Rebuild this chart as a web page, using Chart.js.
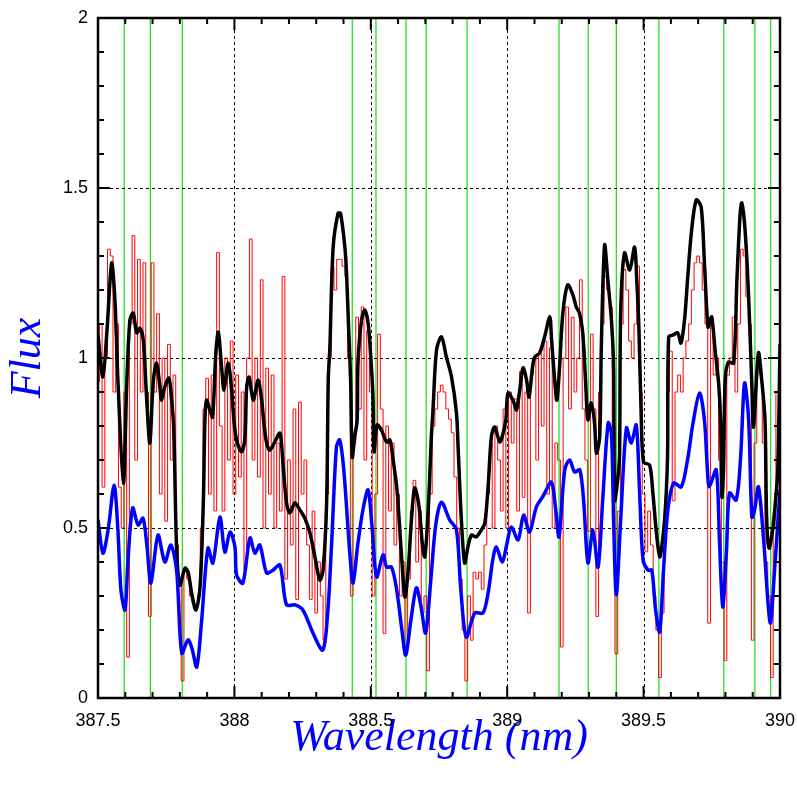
<!DOCTYPE html>
<html>
<head>
<meta charset="utf-8">
<script src="https://cdn.jsdelivr.net/npm/chart.js@4.4.1/dist/chart.umd.min.js"></script>
<style>
  html, body { margin: 0; padding: 0; background: #fff; }
  #wrap { width: 797px; height: 797px; }
</style>
</head>
<body>
<div id="wrap"><canvas id="spectrum" width="797" height="797"></canvas></div>
<script>
// axis ticks
const xTickLabels = ["387.5", "388", "388.5", "389", "389.5", "390"];
const yTickLabels = ["0", "0.5", "1", "1.5", "2"];
const xGridLines = [388, 388.5, 389, 389.5];
const yGridLines = [0.5, 1, 1.5];

// line positions (nm) marked in green
const lineWaves = [387.596, 387.692, 387.809, 388.432, 388.519, 388.629, 388.703,
  388.853, 389.190, 389.297, 389.400, 389.556, 389.794, 389.908, 389.966];

// observed spectrum, sampled every 0.01 nm from 387.5
const redStart = 387.5;
const redStep = 0.01;
const redFlux = [
  0.93, 1.10, 0.62, 1.00, 1.32, 1.30, 0.90, 1.10, 0.62, 0.50,
  0.90, 0.12, 1.10, 1.36, 0.70, 1.29, 0.90, 1.28, 0.90, 0.24,
  1.28, 0.90, 1.13, 0.60, 1.00, 0.52, 1.04, 0.70, 0.95, 0.45,
  0.35, 0.05, 0.38, 0.35, 0.30, 0.28, 0.26, 0.30, 0.50, 0.85,
  0.94, 0.60, 0.95, 0.55, 1.31, 0.80, 0.55, 1.00, 0.70, 1.05,
  0.60, 0.95, 0.65, 0.90, 0.38, 1.00, 1.35, 0.70, 1.00, 0.65,
  1.23, 0.50, 0.97, 0.60, 0.95, 0.50, 0.75, 0.55, 1.24, 0.35,
  0.70, 0.45, 0.85, 0.29, 0.87, 0.60, 0.70, 0.45, 0.29, 0.55,
  0.25, 0.40, 0.30, 0.17, 0.60, 1.00, 1.27, 1.20, 1.29, 1.29,
  1.27, 1.24, 1.00, 0.30, 0.75, 1.12, 0.85, 1.15, 0.70, 1.08,
  0.90, 0.30, 0.60, 1.07, 0.85, 0.19, 0.80, 0.55, 0.75, 0.45,
  0.60, 0.30, 0.40, 0.13, 0.35, 0.55, 0.64, 0.40, 0.55, 0.25,
  0.30, 0.08, 0.60, 0.80, 0.85, 0.90, 0.92, 0.90, 0.85, 0.82,
  0.78, 0.65, 0.50, 0.35, 0.20, 0.05, 0.30, 0.17, 0.37, 0.35,
  0.37, 0.32, 0.45, 0.60, 0.75, 0.50, 0.80, 0.70, 0.55, 0.85,
  0.50, 0.90, 0.75, 0.88, 0.55, 0.96, 0.59, 0.90, 0.25, 0.95,
  1.00, 0.70, 1.02, 0.80, 1.05, 0.60, 1.03, 0.50, 0.75, 0.70,
  0.15, 1.00, 1.15, 0.85, 1.12, 0.90, 1.00, 1.23, 0.85, 0.70,
  0.49, 1.07, 0.85, 0.24, 0.90, 1.10, 1.24, 1.20, 1.15, 0.80,
  0.13, 0.55, 1.10, 1.26, 1.20, 1.05, 1.00, 1.10, 1.27, 0.90,
  0.60, 0.43, 0.55, 0.45, 0.30, 0.20, 0.06, 0.25, 0.50, 0.90,
  1.02, 0.58, 0.90, 0.95, 0.90, 1.00, 1.05, 1.10, 1.20, 1.28,
  1.30, 1.28, 1.20, 1.10, 0.22, 1.10, 0.95, 1.00, 0.70, 0.40,
  0.11, 0.95, 1.00, 1.12, 0.90, 1.10, 1.32, 1.30, 1.18, 1.10,
  0.17, 0.75, 1.00, 0.95, 0.75, 0.40, 0.30, 0.06, 0.50, 0.90,
  1.00
];

// smoothed model, upper (black): [wavelength, flux]
const blackSpec = [
  [387.500,1.068],[387.518,0.944],[387.533,1.082],[387.550,1.279],[387.562,1.171],
  [387.573,0.935],[387.593,0.632],[387.605,0.915],[387.617,1.112],[387.629,1.132],
  [387.642,1.074],[387.654,1.088],[387.666,1.053],[387.678,0.885],[387.690,0.750],
  [387.703,0.935],[387.715,0.985],[387.727,0.915],[387.733,0.876],[387.745,0.915],
  [387.760,0.941],[387.770,0.876],[387.778,0.788],[387.788,0.444],[387.800,0.332],
  [387.819,0.382],[387.831,0.368],[387.843,0.309],[387.859,0.259],[387.874,0.326],
  [387.886,0.574],[387.892,0.818],[387.898,0.876],[387.910,0.847],[387.920,0.826],
  [387.932,1.015],[387.941,1.076],[387.953,0.974],[387.962,0.906],[387.977,0.985],
  [387.990,0.906],[387.998,0.818],[388.008,0.759],[388.026,0.724],[388.038,0.759],
  [388.045,0.915],[388.054,0.944],[388.069,0.876],[388.087,0.935],[388.100,0.876],
  [388.108,0.809],[388.118,0.750],[388.130,0.729],[388.148,0.753],[388.167,0.779],
  [388.179,0.679],[388.191,0.574],[388.203,0.544],[388.222,0.574],[388.240,0.553],
  [388.258,0.529],[388.277,0.485],[388.295,0.415],[388.313,0.347],[388.325,0.376],
  [388.338,0.574],[388.344,0.935],[388.350,1.032],[388.362,1.326],[388.380,1.426],
  [388.389,1.426],[388.405,1.326],[388.411,1.250],[388.419,1.082],[388.426,0.935],
  [388.432,0.709],[388.441,0.768],[388.450,0.818],[388.453,0.985],[388.466,1.112],
  [388.478,1.141],[388.490,1.103],[388.499,1.015],[388.508,0.885],[388.512,0.724],
  [388.523,0.803],[388.539,0.788],[388.558,0.753],[388.570,0.759],[388.582,0.700],
  [388.596,0.612],[388.612,0.426],[388.625,0.297],[388.637,0.376],[388.649,0.524],
  [388.661,0.618],[388.677,0.562],[388.690,0.444],[388.698,0.415],[388.710,0.544],
  [388.722,0.768],[388.728,0.847],[388.741,1.024],[388.759,1.062],[388.777,1.003],
  [388.796,0.944],[388.814,0.838],[388.820,0.738],[388.832,0.524],[388.844,0.397],
  [388.856,0.444],[388.869,0.479],[388.887,0.474],[388.905,0.494],[388.918,0.515],
  [388.930,0.621],[388.942,0.768],[388.954,0.797],[388.973,0.753],[388.985,0.779],
  [388.995,0.818],[389.003,0.897],[389.022,0.874],[389.034,0.847],[389.046,0.906],
  [389.058,0.971],[389.071,0.935],[389.080,0.885],[389.093,0.974],[389.101,1.003],
  [389.119,1.015],[389.137,1.062],[389.156,1.121],[389.162,1.062],[389.174,0.935],
  [389.182,0.876],[389.192,0.974],[389.204,1.132],[389.222,1.215],[389.241,1.185],
  [389.253,1.150],[389.265,1.132],[389.277,1.074],[389.287,0.935],[389.296,0.818],
  [389.308,0.868],[389.320,0.809],[389.327,0.720],[389.339,0.768],[389.345,1.032],
  [389.357,1.332],[389.369,1.229],[389.382,1.112],[389.390,0.974],[389.394,0.582],
  [389.406,0.650],[389.412,0.720],[389.416,1.132],[389.430,1.309],[389.449,1.259],
  [389.467,1.326],[389.475,1.229],[389.483,1.082],[389.491,0.838],[389.500,0.694],
  [389.522,0.685],[389.534,0.603],[389.546,0.494],[389.559,0.415],[389.571,0.474],
  [389.581,0.574],[389.588,0.720],[389.592,1.062],[389.609,1.068],[389.625,1.074],
  [389.637,1.044],[389.650,1.112],[389.661,1.229],[389.675,1.368],[389.693,1.465],
  [389.711,1.444],[389.723,1.279],[389.736,1.091],[389.744,1.112],[389.750,1.121],
  [389.762,1.024],[389.775,0.926],[389.782,0.818],[389.787,0.591],[389.793,0.670],
  [389.799,0.935],[389.811,0.988],[389.830,0.985],[389.842,1.229],[389.854,1.426],
  [389.860,1.456],[389.872,1.376],[389.885,1.179],[389.897,0.915],[389.903,0.797],
  [389.921,1.015],[389.933,0.935],[389.945,0.818],[389.951,0.532],[389.960,0.441],
  [389.973,0.494],[389.983,0.574],[389.992,0.671],[390.000,1.040]
];

// smoothed model, lower (blue): [wavelength, flux]
const blueSpec = [
  [387.500,0.524],[387.518,0.426],[387.537,0.494],[387.559,0.626],[387.573,0.494],
  [387.584,0.318],[387.599,0.259],[387.610,0.406],[387.627,0.559],[387.647,0.509],
  [387.665,0.529],[387.679,0.450],[387.694,0.338],[387.720,0.479],[387.745,0.400],
  [387.767,0.450],[387.788,0.376],[387.807,0.132],[387.830,0.171],[387.844,0.147],
  [387.862,0.091],[387.880,0.229],[387.903,0.441],[387.921,0.397],[387.947,0.532],
  [387.965,0.429],[387.984,0.488],[388.002,0.444],[388.008,0.362],[388.031,0.338],
  [388.057,0.471],[388.075,0.426],[388.093,0.450],[388.118,0.368],[388.141,0.376],
  [388.167,0.391],[388.191,0.274],[388.222,0.274],[388.251,0.259],[388.288,0.191],
  [388.324,0.141],[388.342,0.250],[388.357,0.465],[388.374,0.738],[388.386,0.759],
  [388.401,0.671],[388.423,0.426],[388.435,0.338],[388.452,0.450],[388.471,0.553],
  [388.490,0.612],[388.504,0.509],[388.521,0.356],[388.545,0.421],[388.558,0.385],
  [388.576,0.385],[388.595,0.318],[388.614,0.200],[388.628,0.126],[388.647,0.229],
  [388.667,0.324],[388.683,0.274],[388.701,0.191],[388.720,0.347],[388.738,0.509],
  [388.759,0.576],[388.789,0.524],[388.814,0.494],[388.830,0.318],[388.850,0.179],
  [388.881,0.250],[388.911,0.250],[388.930,0.309],[388.947,0.406],[388.960,0.444],
  [388.982,0.400],[388.998,0.450],[389.015,0.503],[389.040,0.465],[389.060,0.538],
  [389.082,0.488],[389.107,0.562],[389.134,0.597],[389.162,0.635],[389.178,0.553],
  [389.190,0.474],[389.211,0.671],[389.229,0.700],[389.247,0.665],[389.266,0.671],
  [389.280,0.582],[389.296,0.397],[389.314,0.494],[389.333,0.385],[389.350,0.582],
  [389.370,0.809],[389.382,0.779],[389.390,0.524],[389.400,0.303],[389.416,0.524],
  [389.437,0.794],[389.455,0.750],[389.473,0.803],[389.485,0.612],[389.498,0.406],
  [389.516,0.376],[389.530,0.376],[389.544,0.259],[389.559,0.194],[389.573,0.376],
  [389.589,0.553],[389.610,0.632],[389.638,0.621],[389.661,0.700],[389.680,0.803],
  [389.705,0.897],[389.723,0.818],[389.734,0.671],[389.741,0.621],[389.766,0.671],
  [389.778,0.465],[389.790,0.268],[389.804,0.435],[389.815,0.603],[389.839,0.582],
  [389.855,0.700],[389.870,0.926],[389.885,0.818],[389.897,0.532],[389.907,0.553],
  [389.921,0.621],[389.940,0.465],[389.964,0.221],[389.980,0.376],[390.000,0.612]
];

const toPoints = (pairs) => pairs.map(([w, f]) => ({ x: w, y: f }));
const redPoints = redFlux.map((f, i) => ({ x: redStart + i * redStep, y: f }));

// grid, green lines, frame and inward ticks
const framePlugin = {
  id: "framePlugin",
  beforeDatasetsDraw(chart) {
    const { ctx, chartArea: a, scales: { x, y } } = chart;
    ctx.save();
    ctx.strokeStyle = "#14e014";
    ctx.lineWidth = 1.2;
    lineWaves.forEach((w) => {
      const px = x.getPixelForValue(w);
      ctx.beginPath();
      ctx.moveTo(px, a.top);
      ctx.lineTo(px, a.bottom);
      ctx.stroke();
    });
    ctx.strokeStyle = "#000";
    ctx.lineWidth = 1;
    ctx.setLineDash([3, 3]);
    xGridLines.forEach((w) => {
      const px = Math.round(x.getPixelForValue(w)) + 0.5;
      ctx.beginPath();
      ctx.moveTo(px, a.top);
      ctx.lineTo(px, a.bottom);
      ctx.stroke();
    });
    yGridLines.forEach((f) => {
      const py = Math.round(y.getPixelForValue(f)) + 0.5;
      ctx.beginPath();
      ctx.moveTo(a.left, py);
      ctx.lineTo(a.right, py);
      ctx.stroke();
    });
    ctx.restore();
  },
  afterDatasetsDraw(chart) {
    const { ctx, chartArea: a, scales: { x, y } } = chart;
    ctx.save();
    ctx.strokeStyle = "#000";
    ctx.lineWidth = 2;
    ctx.setLineDash([]);
    // x ticks every 0.1 nm, long ones every 0.5
    for (let k = 0; k <= 25; k++) {
      const px = x.getPixelForValue(387.5 + k * 0.1);
      const len = k % 5 === 0 ? 12 : 6;
      ctx.beginPath();
      ctx.moveTo(px, a.bottom);
      ctx.lineTo(px, a.bottom - len);
      ctx.moveTo(px, a.top);
      ctx.lineTo(px, a.top + len);
      ctx.stroke();
    }
    // y ticks every 0.1, long ones every 0.5
    for (let k = 0; k <= 20; k++) {
      const py = y.getPixelForValue(k * 0.1);
      const len = k % 5 === 0 ? 12 : 6;
      ctx.beginPath();
      ctx.moveTo(a.left, py);
      ctx.lineTo(a.left + len, py);
      ctx.moveTo(a.right, py);
      ctx.lineTo(a.right - len, py);
      ctx.stroke();
    }
    ctx.lineWidth = 2.5;
    ctx.strokeRect(a.left, a.top, a.right - a.left, a.bottom - a.top);
    ctx.restore();
  },
};

const titleFont = { family: "'Liberation Serif', 'DejaVu Serif', serif", size: 44, style: "italic" };
const tickFont = { family: "'Liberation Sans', Arial, sans-serif", size: 18 };

new Chart(document.getElementById("spectrum"), {
  type: "line",
  data: {
    datasets: [
      {
        label: "lower",
        data: toPoints(blueSpec),
        borderColor: "#0000ff",
        borderWidth: 3.5,
        pointRadius: 0,
        tension: 0.3,
        order: 0,
      },
      {
        label: "upper",
        data: toPoints(blackSpec),
        borderColor: "#000000",
        borderWidth: 3.5,
        pointRadius: 0,
        tension: 0.3,
        order: 1,
      },
      {
        label: "observed",
        data: redPoints,
        borderColor: "#ff0000",
        borderWidth: 1,
        pointRadius: 0,
        stepped: "middle",
        order: 2,
      },
    ],
  },
  options: {
    responsive: false,
    animation: false,
    events: [],
    layout: { padding: { top: 18, right: 17, bottom: 0, left: 0 } },
    plugins: {
      legend: { display: false },
      tooltip: { enabled: false },
    },
    scales: {
      x: {
        type: "linear",
        min: 387.5,
        max: 390,
        afterFit: (scale) => {
          scale.height = 99;
          scale.paddingLeft = 0;
          scale.paddingRight = 0;
        },
        grid: { display: false, drawTicks: false },
        border: { display: false },
        ticks: {
          stepSize: 0.5,
          padding: 12,
          maxRotation: 0,
          color: "#000",
          font: tickFont,
          callback: (v, i) => xTickLabels[i],
        },
        title: {
          display: true,
          text: "Wavelength (nm)",
          color: "#0000ff",
          font: titleFont,
          padding: { top: 0, bottom: 32 },
        },
      },
      y: {
        min: 0,
        max: 2,
        afterFit: (scale) => {
          scale.width = 98;
          scale.paddingTop = 0;
          scale.paddingBottom = 0;
        },
        grid: { display: false, drawTicks: false },
        border: { display: false },
        ticks: {
          stepSize: 0.5,
          padding: 10,
          color: "#000",
          font: tickFont,
          callback: (v, i) => yTickLabels[i],
        },
        title: {
          display: true,
          text: "Flux",
          color: "#0000ff",
          font: titleFont,
          padding: { top: 2, bottom: 0 },
        },
      },
    },
  },
  plugins: [framePlugin],
});
</script>
</body>
</html>
